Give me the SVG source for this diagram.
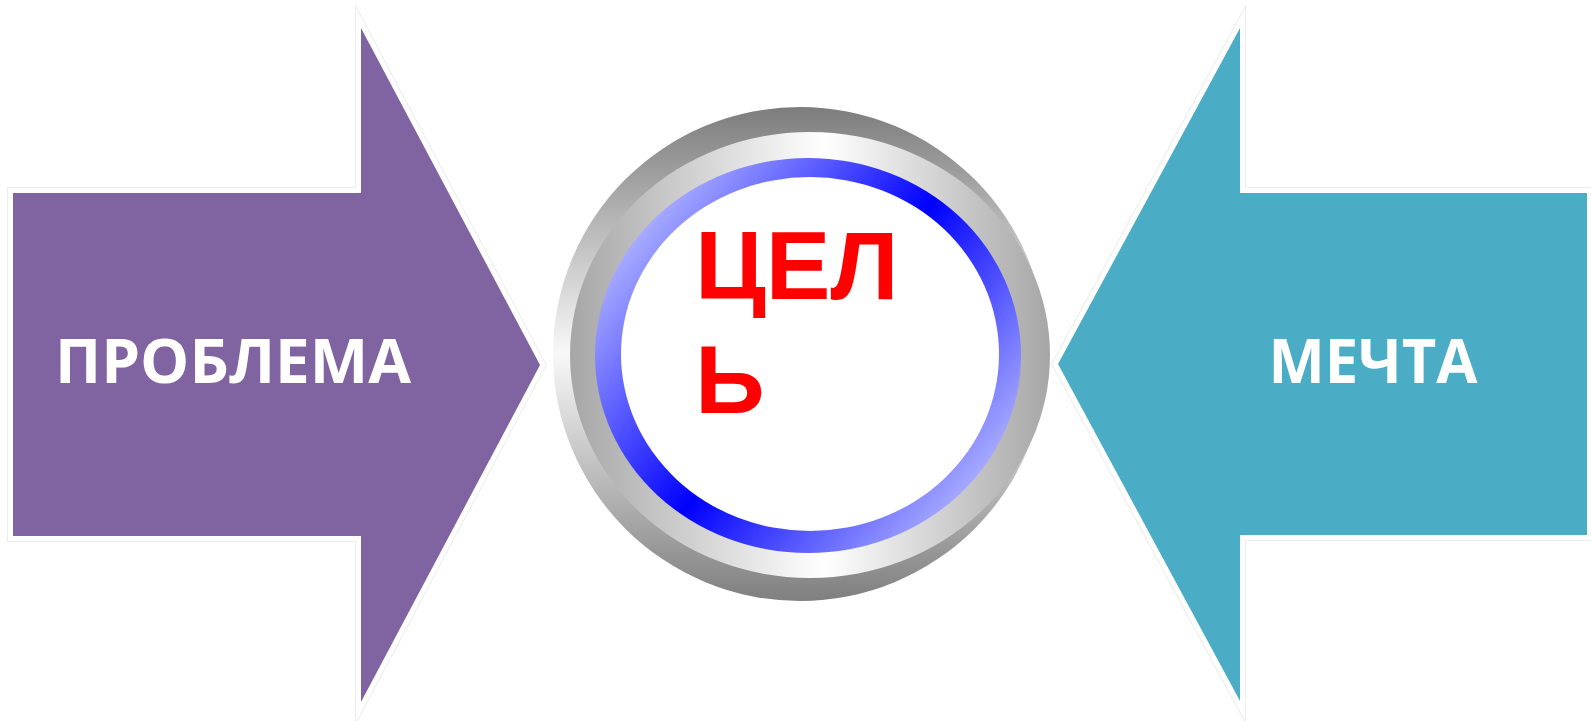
<svg xmlns="http://www.w3.org/2000/svg" width="1591" height="721" viewBox="0 0 1591 721">
  <defs>
    <linearGradient id="gA" x1="0" y1="0" x2="0" y2="1">
      <stop offset="0" stop-color="#7d7d7d"/>
      <stop offset="0.5" stop-color="#f8f8f8"/>
      <stop offset="1" stop-color="#7f7f7f"/>
    </linearGradient>
    <linearGradient id="gB" x1="0" y1="0" x2="1" y2="0">
      <stop offset="0" stop-color="#a6a6a6"/>
      <stop offset="0.53" stop-color="#ffffff"/>
      <stop offset="1" stop-color="#a6a6a6"/>
    </linearGradient>
    <linearGradient id="gBlue" gradientUnits="userSpaceOnUse" x1="640" y1="207" x2="990" y2="490">
      <stop offset="0" stop-color="#b4b8ff"/>
      <stop offset="0.5" stop-color="#0000ff"/>
      <stop offset="1" stop-color="#b4b8ff"/>
    </linearGradient>
  </defs>
  <style>
    .halo1 { fill: none; stroke: #ececec; stroke-width: 12; stroke-miterlimit: 10; }
    .halo2 { fill: none; stroke: #ffffff; stroke-width: 10; stroke-miterlimit: 10; }
    .lbl { font-family: "Open Sans", "Noto Sans", "Liberation Sans", sans-serif; font-weight: 700; font-size: 60px; fill: #ffffff; text-anchor: middle; }
    .goal { font-family: "Liberation Sans", Arial, sans-serif; font-weight: 700; font-size: 97px; fill: #ff0000; }
  </style>
  <rect width="1591" height="721" fill="#ffffff"/>

  <g id="node-problem">
    <path class="halo1" d="M13,193 H361 V28 L540,365 L361,702 V536 H13 Z"/>
    <path class="halo2" d="M13,193 H361 V28 L540,365 L361,702 V536 H13 Z"/>
    <path fill="#8064a2" d="M13,193 H361 V28 L540,365 L361,702 V536 H13 Z"/>
    <text class="lbl" x="233" y="383" textLength="356" lengthAdjust="spacingAndGlyphs">ПРОБЛЕМА</text>
  </g>

  <g id="node-dream">
    <path class="halo1" d="M1587,193 H1240 V28 L1058,364 L1240,701 V535 H1587 Z"/>
    <path class="halo2" d="M1587,193 H1240 V28 L1058,364 L1240,701 V535 H1587 Z"/>
    <path fill="#4bacc6" d="M1587,193 H1240 V28 L1058,364 L1240,701 V535 H1587 Z"/>
    <text class="lbl" x="1373" y="383" textLength="209" lengthAdjust="spacingAndGlyphs">МЕЧТА</text>
  </g>

  <g id="node-goal">
    <circle cx="800" cy="354" r="247" fill="url(#gA)"/>
    <ellipse cx="810" cy="355" rx="240" ry="223" fill="url(#gB)"/>
    <ellipse cx="808" cy="355.5" rx="213" ry="197.5" fill="url(#gBlue)"/>
    <ellipse cx="810" cy="354" rx="189" ry="177" fill="#ffffff"/>
    <text class="goal" x="695" y="299">ЦЕЛ</text>
    <text class="goal" x="695" y="413">Ь</text>
  </g>

  <g id="connectors"/>
</svg>
